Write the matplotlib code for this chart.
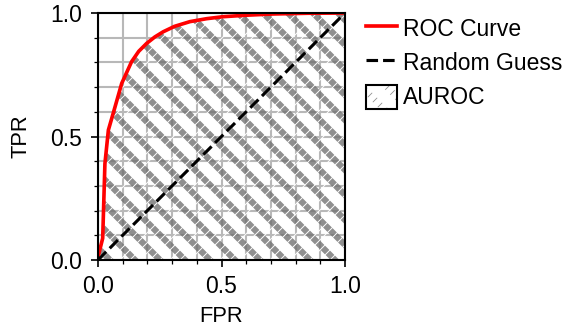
import matplotlib
matplotlib.use("Agg")
import matplotlib.pyplot as plt
import matplotlib.ticker as mticker
from matplotlib.patches import Patch

plt.rcParams.update({
    "font.family": ["Liberation Sans", "DejaVu Sans"],
    "font.size": 10,
    "hatch.linewidth": 3.0,
})

# ROC curve
fpr = [0.0, 0.001, 0.019, 0.028, 0.042, 0.069, 0.096, 0.136, 0.165, 0.197,
       0.23, 0.264, 0.31, 0.372, 0.44, 0.506, 0.6, 0.709, 0.85, 1.0]
tpr = [0.0, 0.016, 0.088, 0.39, 0.526, 0.62, 0.715, 0.803, 0.845, 0.877,
       0.903, 0.924, 0.946, 0.965, 0.977, 0.985, 0.991, 0.996, 0.999, 1.0]
diag = [0.0, 1.0]

fig = plt.figure(figsize=(3.9, 329 / 150), dpi=150)
ax = fig.add_axes([98 / 585, 1 - 260 / 329, 247 / 585, 247 / 329])

ax.xaxis.set_major_locator(mticker.MultipleLocator(0.5))
ax.yaxis.set_major_locator(mticker.MultipleLocator(0.5))
ax.xaxis.set_minor_locator(mticker.MultipleLocator(0.1))
ax.yaxis.set_minor_locator(mticker.MultipleLocator(0.1))
ax.grid(which="both", color="#b8b8b8", linewidth=1.0)
ax.set_axisbelow(True)
ax.tick_params(axis="both", which="major", labelsize=11)
ax.tick_params(axis="y", which="major", pad=4)

area = ax.fill_between(fpr, tpr, 0, facecolor="none",
                       edgecolor=(0.45, 0.45, 0.45, 0.8), hatch="\\\\", linewidth=0)
with plt.rc_context({"hatch.linewidth": 0.45}):
    cuts = ax.fill_between(fpr, tpr, 0, facecolor="none",
                           edgecolor="white", hatch="/////", linewidth=0)

roc, = ax.plot(fpr, tpr, color="red", linewidth=1.75)
rnd, = ax.plot(diag, diag, color="black", linestyle="--", linewidth=1.5)

ax.set_xlim(0, 1)
ax.set_ylim(0, 1)
ax.set_xlabel("FPR", fontsize=10.5)
ax.set_ylabel("TPR", fontsize=10.5, labelpad=9)
for s in ax.spines.values():
    s.set_linewidth(1.0)

box = Patch(facecolor="none", edgecolor="black", linewidth=1.0)
ax.legend([roc, rnd, (area, cuts, box)], ["ROC Curve", "Random Guess", "AUROC"],
          loc="upper left", bbox_to_anchor=(1.0, 1.07), frameon=False,
          fontsize=11, handlelength=1.35, handleheight=1.22, handletextpad=0.3,
          labelspacing=0.42, borderaxespad=0.5)

fig.savefig("out.png", dpi=150, facecolor="white")
